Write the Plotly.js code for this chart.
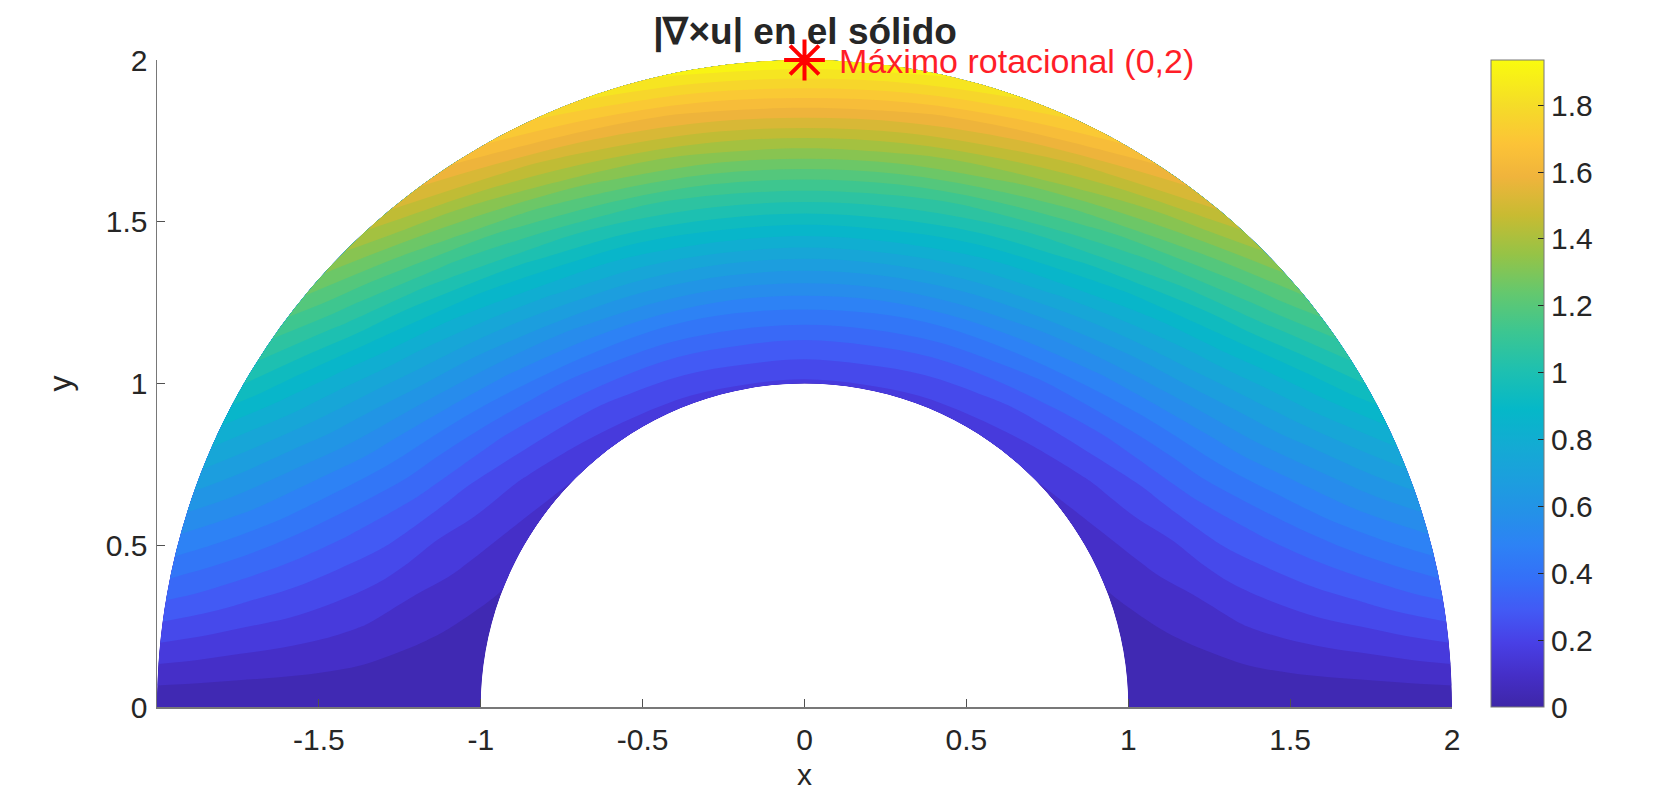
<!DOCTYPE html>
<html>
<head>
<meta charset="utf-8">
<script src="https://cdn.plot.ly/plotly-3.0.1.min.js"></script>
<style>html,body{margin:0;padding:0;background:#fff;}#chart{width:1678px;height:791px;}</style>
</head>
<body>
<div id="chart"></div>
<script>
// Radii of the half annulus and polar angles (degrees) of the sampled grid
const radii = [1, 1.125, 1.25, 1.375, 1.5, 1.625, 1.75, 1.875, 2];
const anglesDeg = [0, 10, 20, 30, 40, 50, 60, 70, 80, 90, 100, 110, 120, 130, 140, 150, 160, 170, 180];

// |curl u|, one array per radius, along the angles above
const curlR1000 = [0, 0.03, 0.06, 0.09, 0.12, 0.14, 0.16, 0.17, 0.18, 0.18, 0.18, 0.17, 0.16, 0.14, 0.12, 0.09, 0.06, 0.03, 0];
const curlR1125 = [0, 0.05, 0.11, 0.16, 0.20, 0.24, 0.27, 0.29, 0.31, 0.31, 0.31, 0.29, 0.27, 0.24, 0.20, 0.16, 0.11, 0.05, 0];
const curlR1250 = [0, 0.08, 0.16, 0.24, 0.31, 0.37, 0.42, 0.45, 0.47, 0.48, 0.47, 0.45, 0.42, 0.37, 0.31, 0.24, 0.16, 0.08, 0];
const curlR1375 = [0, 0.12, 0.24, 0.35, 0.44, 0.53, 0.60, 0.65, 0.68, 0.69, 0.68, 0.65, 0.60, 0.53, 0.44, 0.35, 0.24, 0.12, 0];
const curlR1500 = [0, 0.16, 0.31, 0.46, 0.59, 0.70, 0.80, 0.86, 0.91, 0.92, 0.91, 0.86, 0.80, 0.70, 0.59, 0.46, 0.31, 0.16, 0];
const curlR1625 = [0, 0.20, 0.39, 0.58, 0.74, 0.88, 1.00, 1.08, 1.13, 1.15, 1.13, 1.08, 1.00, 0.88, 0.74, 0.58, 0.39, 0.20, 0];
const curlR1750 = [0, 0.24, 0.48, 0.70, 0.90, 1.07, 1.21, 1.32, 1.38, 1.40, 1.38, 1.32, 1.21, 1.07, 0.90, 0.70, 0.48, 0.24, 0];
const curlR1875 = [0, 0.29, 0.57, 0.83, 1.07, 1.27, 1.44, 1.56, 1.63, 1.66, 1.63, 1.56, 1.44, 1.27, 1.07, 0.83, 0.57, 0.29, 0];
const curlR2000 = [0, 0.34, 0.66, 0.97, 1.24, 1.48, 1.67, 1.81, 1.90, 1.93, 1.90, 1.81, 1.67, 1.48, 1.24, 0.97, 0.66, 0.34, 0];

// Maximum point and its label
const maxX = [0];
const maxY = [2];
const maxLabel = 'Máximo rotacional (0,2)';

const xTicks = [-1.5, -1, -0.5, 0, 0.5, 1, 1.5, 2];
const yTicks = [0, 0.5, 1, 1.5, 2];
const cbTicks = [0, 0.2, 0.4, 0.6, 0.8, 1, 1.2, 1.4, 1.6, 1.8];
const zMin = 0, zMax = 1.935;

// grid for carpet: rows follow angles, columns follow radii
const byRadius = [curlR1000, curlR1125, curlR1250, curlR1375, curlR1500, curlR1625, curlR1750, curlR1875, curlR2000];
const X = anglesDeg.map(t => radii.map(r => r * Math.cos(t * Math.PI / 180)));
const Y = anglesDeg.map(t => radii.map(r => r * Math.sin(t * Math.PI / 180)));
const Z = anglesDeg.map((t, j) => radii.map((r, i) => byRadius[i][j]));

const parula = [
  [0.00, 'rgb(62,38,168)'],
  [0.05, 'rgb(69,47,200)'],
  [0.10, 'rgb(72,64,230)'],
  [0.15, 'rgb(66,90,245)'],
  [0.20, 'rgb(52,112,248)'],
  [0.25, 'rgb(45,130,245)'],
  [0.30, 'rgb(36,145,232)'],
  [0.35, 'rgb(28,158,222)'],
  [0.40, 'rgb(20,170,212)'],
  [0.46, 'rgb(5,184,200)'],
  [0.52, 'rgb(30,192,176)'],
  [0.58, 'rgb(60,198,145)'],
  [0.64, 'rgb(100,200,110)'],
  [0.70, 'rgb(150,195,70)'],
  [0.76, 'rgb(200,187,50)'],
  [0.82, 'rgb(240,180,60)'],
  [0.87, 'rgb(252,195,55)'],
  [0.93, 'rgb(245,220,40)'],
  [1.00, 'rgb(249,251,14)']
];

const FONT = '"Liberation Sans", Arial, Helvetica, sans-serif';
const TXT = 'rgb(38,38,38)';
const hidden = {showgrid:false, showline:false, showticklabels:'none', startline:false, endline:false, minorgridcount:0, smoothing:1, ticks:''};

const traces = [
  {type:'carpet', carpet:'c1', a: radii, b: anglesDeg, x: X, y: Y,
   aaxis: hidden, baxis: hidden, hoverinfo:'skip'},
  {type:'contourcarpet', carpet:'c1', a: radii, b: anglesDeg, z: Z,
   autocontour:false,
   contours:{start:0, end:zMax, size:zMax/30, coloring:'fill', showlines:false},
   line:{width:0, smoothing:1},
   colorscale: parula, zauto:false, zmin:zMin, zmax:zMax, showscale:false},
  // continuous colour bar (no visible marks)
  {type:'scatter', mode:'markers', x:[null, null], y:[null, null], hoverinfo:'skip', showlegend:false,
   marker:{color:[zMin, zMax], cmin:zMin, cmax:zMax, colorscale: parula, showscale:true, size:1, opacity:0,
     colorbar:{
       x: 1491/1678, xanchor:'left', xref:'container',
       y: 0, yanchor:'bottom', yref:'paper', len: 1, lenmode:'fraction', ypad:0, xpad:0,
       thickness: 53, thicknessmode:'pixels',
       outlinewidth:1, outlinecolor:'rgb(120,120,120)',
       tickvals: cbTicks, ticktext: cbTicks.map(String), ticks:'inside', ticklen:6, tickcolor:'rgb(38,38,38)',
       tickfont:{family:FONT, size:30, color:TXT}, ticklabelstandoff: 2
     }}},
  {type:'scatter', mode:'markers', x: maxX, y: maxY, cliponaxis:false,
   marker:{symbol:'asterisk-open', size:34, color:'rgb(255,0,0)', line:{color:'rgb(255,0,0)', width:4}},
   hoverinfo:'skip', showlegend:false}
];

const layout = {
  width:1678, height:791,
  margin:{l:157.3, r:225.7, t:60, b:83.6},
  paper_bgcolor:'#fff', plot_bgcolor:'#fff',
  showlegend:false,
  font:{family:FONT, color:TXT},
  title:{text:'<b>|∇×u| en el sólido</b>', font:{family:FONT, size:37, color:TXT},
         x:805/1678, xanchor:'center', xref:'container', y:1-31/791, yanchor:'middle', yref:'container'},
  xaxis:{range:[-2,2], tickvals:xTicks, ticktext:xTicks.map(String), ticks:'inside', ticklen:8, tickcolor:'rgb(80,80,80)',
         showline:true, linecolor:'rgb(120,120,120)', linewidth:1.5, showgrid:false, zeroline:false,
         tickfont:{family:FONT, size:30, color:TXT}, ticklabelstandoff:5},
  yaxis:{range:[0,2], tickvals:yTicks, ticktext:yTicks.map(String), ticks:'inside', ticklen:8, tickcolor:'rgb(80,80,80)',
         showline:true, linecolor:'rgb(120,120,120)', linewidth:1.5, showgrid:false, zeroline:false,
         tickfont:{family:FONT, size:30, color:TXT}, ticklabelstandoff:2,
         title:{text:'y', font:{family:FONT, size:32, color:TXT}, standoff:24}},
  annotations:[
    {x:maxX[0], y:maxY[0], xref:'x', yref:'y', text:maxLabel, showarrow:false,
     xanchor:'left', yanchor:'middle', xshift:33, yshift:-1, borderpad:0,
     font:{family:FONT, size:34, color:'rgb(255,30,40)'}},
    {x:0.5, y:-(775-707.4)/646.4, xref:'paper', yref:'paper', text:'x', showarrow:false,
     xanchor:'center', yanchor:'middle', borderpad:0,
     font:{family:FONT, size:30, color:TXT}}
  ]
};

Plotly.newPlot('chart', traces, layout, {displayModeBar:false, staticPlot:true});
</script>
</body>
</html>
